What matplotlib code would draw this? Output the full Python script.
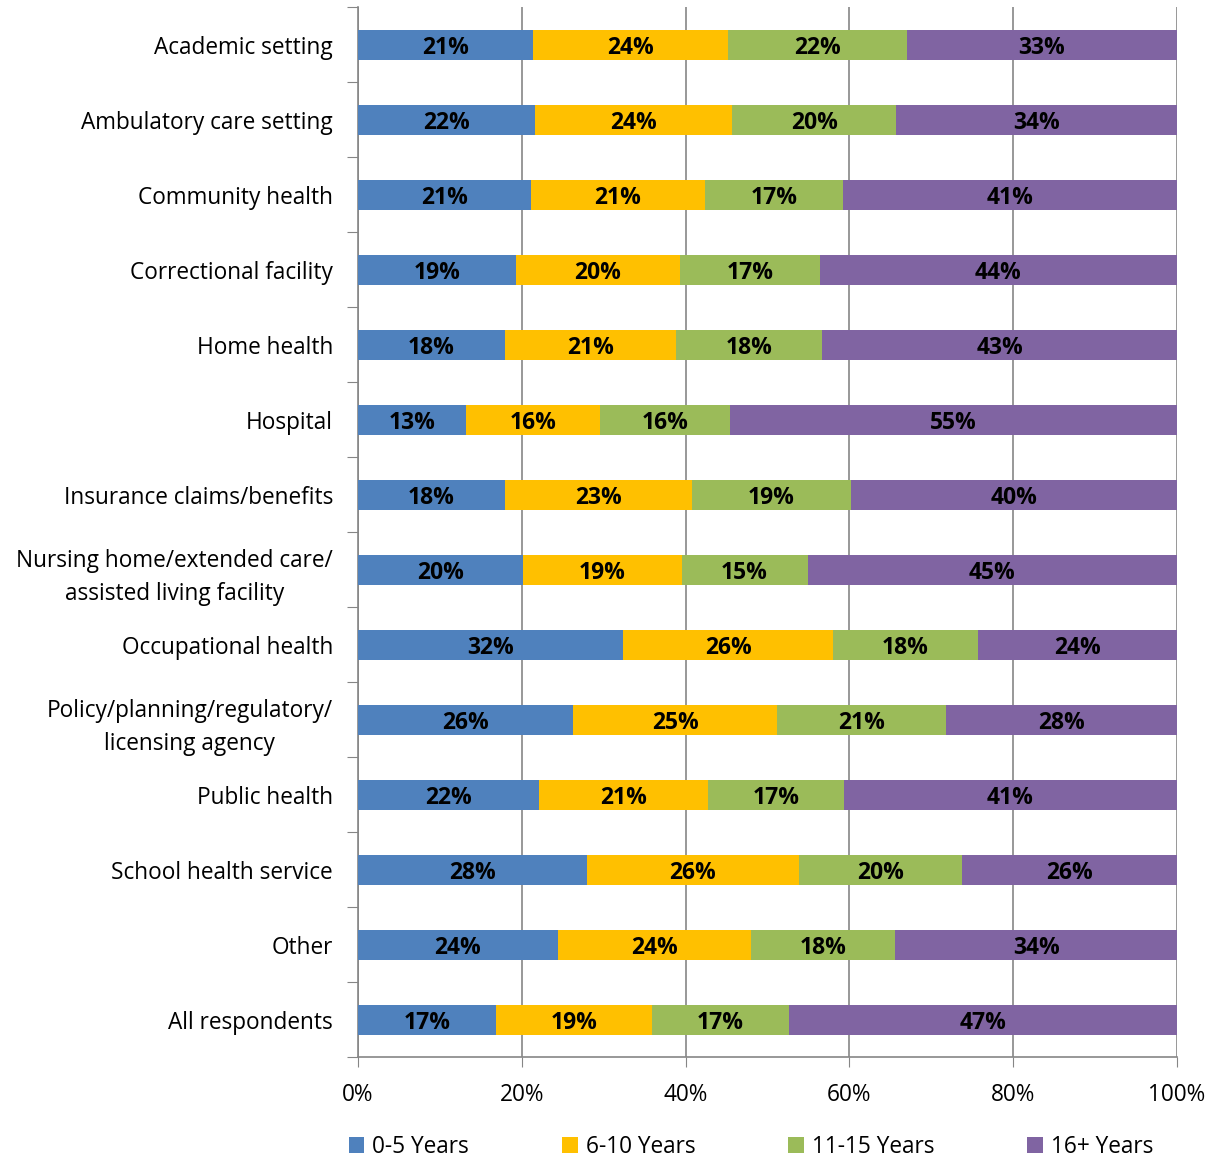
import matplotlib
matplotlib.use("Agg")
import matplotlib.pyplot as plt
import numpy as np
from matplotlib.patches import Patch

plt.rcParams['font.family'] = ['Open Sans', 'DejaVu Sans']

categories = ["Academic setting", "Ambulatory care setting", "Community health",
              "Correctional facility", "Home health", "Hospital",
              "Insurance claims/benefits",
              "Nursing home/extended care/\nassisted living facility",
              "Occupational health",
              "Policy/planning/regulatory/\nlicensing agency",
              "Public health", "School health service", "Other", "All respondents"]
series_names = ["0-5 Years", "6-10 Years", "11-15 Years", "16+ Years"]
y0_5 =   [21.4, 21.6, 21.1, 19.3, 17.9, 13.2, 17.9, 20.1, 32.4, 26.3, 22.1, 28.0, 24.4, 16.8]
y6_10 =  [23.8, 24.1, 21.3, 20.0, 20.9, 16.3, 22.9, 19.4, 25.6, 24.9, 20.6, 25.8, 23.6, 19.1]
y11_15 = [21.8, 20.0, 16.8, 17.1, 17.9, 15.9, 19.4, 15.4, 17.7, 20.6, 16.6, 20.0, 17.6, 16.7]
y16 =    [33.0, 34.3, 40.8, 43.6, 43.3, 54.6, 39.8, 45.1, 24.3, 28.2, 40.7, 26.2, 34.4, 47.4]
colors = ["#4F81BD", "#FFC000", "#9BBB59", "#8064A2"]
xticks = [0, 20, 40, 60, 80, 100]

FS = 16.3
FSB = 16.5

fig = plt.figure(figsize=(12.14, 11.57), dpi=100)
ax = fig.add_axes([358/1214, 1 - 1057/1157, 819/1214, 1050/1157])

n = len(categories)
ypos = np.arange(n)
left = np.zeros(n)
for vals, c in zip([y0_5, y6_10, y11_15, y16], colors):
    vals = np.array(vals)
    ax.barh(ypos, vals, left=left, height=0.4, color=c, zorder=3)
    for yi, (l, v) in enumerate(zip(left, vals)):
        ax.text(l + v / 2, yi, f"{int(round(v))}%", ha='center', va='center_baseline',
                fontsize=FSB, fontweight='bold', color='black', zorder=4)
    left += vals

ax.set_xlim(0, 100)
ax.set_ylim(n - 0.5, -0.5)
ax.set_xticks(xticks)
ax.set_xticklabels([f"{t}%" for t in xticks], fontsize=FS)
ax.set_yticks(np.arange(-0.5, n, 1.0))
ax.set_yticklabels([])
ax.set_yticks(ypos, minor=True)
ax.set_yticklabels(categories, minor=True, fontsize=FS, ha='right',
                   multialignment='center', linespacing=1.55)
ax.tick_params(axis='y', which='minor', length=0, pad=18)
ax.tick_params(axis='y', which='major', length=8, color='#868686', direction='out')
ax.tick_params(axis='x', length=7, color='#868686', direction='out', pad=12)
ax.grid(axis='x', color='#868686', linewidth=1.2, zorder=0)
for s in ['top', 'right']:
    ax.spines[s].set_visible(False)
for s in ['left', 'bottom']:
    ax.spines[s].set_color('#868686')
    ax.spines[s].set_linewidth(1.2)

handles = [Patch(facecolor=c, label=s) for c, s in zip(colors, series_names)]
fig.legend(handles=handles, loc='center', bbox_to_anchor=(751/1214, 1 - 1147/1157),
           ncol=4, frameon=False, fontsize=FS, handlelength=0.7, handleheight=0.7,
           handletextpad=0.35, columnspacing=4.1, borderpad=0)

fig.savefig("out.png", dpi=100)
